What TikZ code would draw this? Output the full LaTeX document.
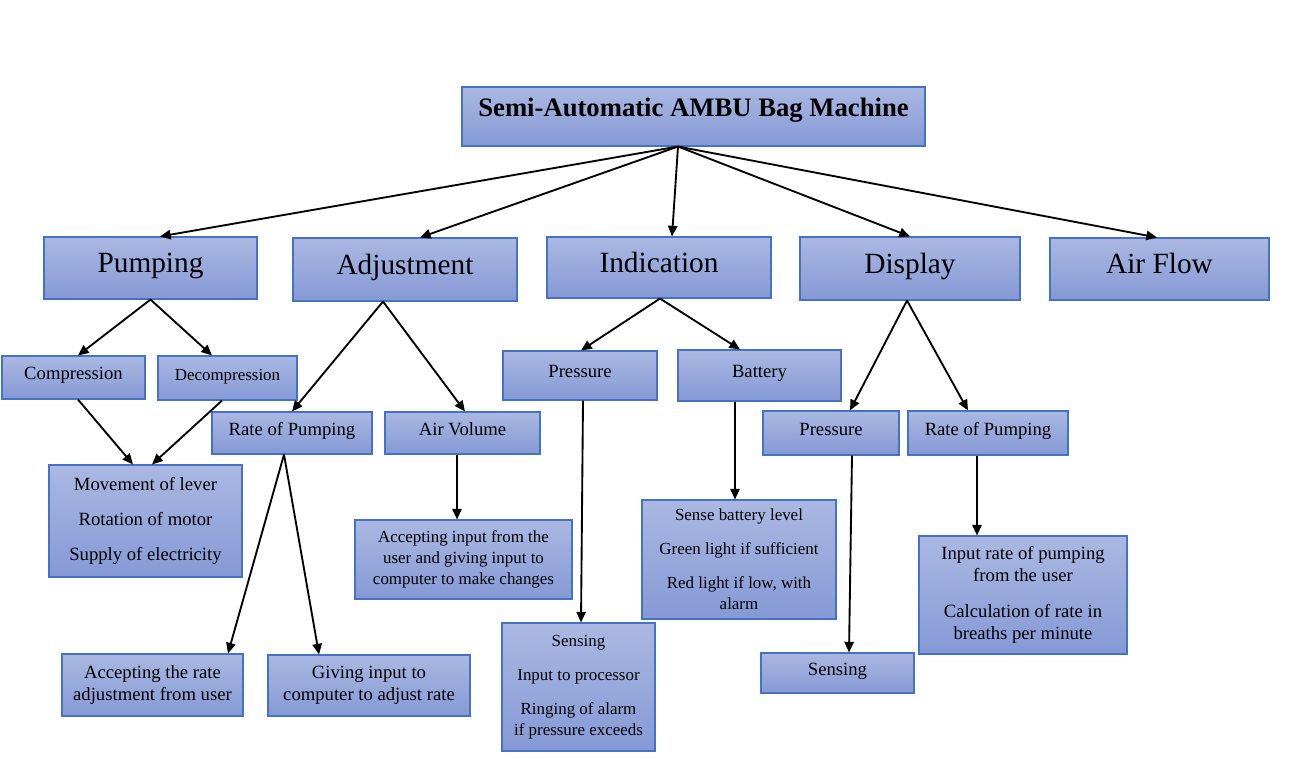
\documentclass[tikz,border=0pt]{standalone}
\usepackage{fontspec}
\setmainfont{Liberation Serif}
\usetikzlibrary{arrows.meta,calc}

\definecolor{boxTop}{HTML}{AAB8E2}
\definecolor{boxBot}{HTML}{8599D5}
\definecolor{boxLine}{HTML}{4472C4}

\begin{document}
\begin{tikzpicture}[
    x=0.75pt, y=-0.75pt,
    % box styles
    box/.style={draw=boxLine, line width=0.8pt, top color=boxTop, bottom color=boxBot, inner sep=0pt},
    title/.style={box, font=\bfseries\fontsize{20}{24}\selectfont, text height=12pt, text depth=12pt},
    big/.style={box, font=\fontsize{22}{26}\selectfont, text height=15pt, text depth=8pt},
    small/.style={box, font=\fontsize{14}{16.5}\selectfont, text height=9pt, text depth=6pt},
    multi/.style={box, font=\fontsize{14}{16.5}\selectfont, align=center},
    tiny/.style={font=\fontsize{12.7}{15.5}\selectfont},
    arr/.style={-{Triangle[length=8pt,width=7pt]}, line width=1.4pt}
]
    \useasboundingbox (0,0) rectangle (1307,774);

    % --- box macro: name, left, top, right, bottom, style, text ---
    \newcommand{\mkbox}[7]{
        \node[#6, minimum width={(#4-#2)*0.75pt}, minimum height={(#5-#3)*0.75pt}]
            (#1) at ({(#2+#4)/2},{(#3+#5)/2}) {#7};
    }

    % --- top level ---
    \mkbox{root}{462}{87}{925}{146}{title}{Semi-Automatic AMBU Bag Machine}
    \mkbox{pump}{44}{237}{257}{299}{big}{Pumping}
    \mkbox{adj}{293}{238}{517}{301}{big}{Adjustment}
    \mkbox{ind}{547}{237}{771}{298}{big}{Indication}
    \mkbox{disp}{800}{237}{1020}{300}{big}{Display}
    \mkbox{air}{1050}{238}{1269}{300}{big}{Air Flow}

    % --- pumping branch ---
    \mkbox{comp}{2}{356}{145}{399}{small}{Compression}
    \mkbox{decomp}{158}{356}{297}{400}{small, tiny}{Decompression}
    \mkbox{move}{49}{465}{242}{577}{multi}{Movement of lever\\[10pt]Rotation of motor\\[10pt]Supply of electricity}

    % --- adjustment branch ---
    \mkbox{rateA}{212}{412}{372}{454}{small}{Rate of Pumping}
    \mkbox{airvol}{385}{412}{540}{454}{small}{Air Volume}
    \mkbox{accin}{355}{520}{572}{599}{multi, tiny}{Accepting input from the\\user and giving input to\\computer to make changes}
    \mkbox{accrate}{62}{654}{243}{716}{multi}{Accepting the rate\\adjustment from user}
    \mkbox{give}{268}{655}{470}{716}{multi}{Giving input to\\computer to adjust rate}

    % --- indication branch ---
    \mkbox{presI}{503}{351}{657}{400}{small}{Pressure}
    \mkbox{batt}{678}{350}{841}{401}{small}{Battery}
    \mkbox{sensI}{502}{623}{655}{751}{multi, tiny}{Sensing\\[10pt]Input to processor\\[10pt]Ringing of alarm\\if pressure exceeds}
    \mkbox{sbatt}{642}{500}{836}{619}{multi, tiny}{Sense battery level\\[10pt]Green light if sufficient\\[10pt]Red light if low, with\\alarm}

    % --- display branch ---
    \mkbox{presD}{763}{411}{899}{455}{small}{Pressure}
    \mkbox{rateD}{908}{411}{1068}{455}{small}{Rate of Pumping}
    \mkbox{sensD}{761}{653}{914}{693}{small}{Sensing}
    \mkbox{inrate}{919}{536}{1127}{654}{multi}{Input rate of pumping\\from the user\\[10pt]Calculation of rate in\\breaths per minute}

    % --- connectors ---
    \coordinate (rootout) at ($(root.south)+(-15.5,0)$);
    \draw[arr] (rootout) -- ($(pump.north)+(9.5,0)$);
    \draw[arr] (rootout) -- ($(adj.north)+(15,0)$);
    \draw[arr] (rootout) -- ($(ind.north)+(13,0)$);
    \draw[arr] (rootout) -- (disp.north);
    \draw[arr] (rootout) -- ($(air.north)+(-2.5,0)$);

    \draw[arr] (pump.south) -- ($(comp.north)+(4.5,0)$);
    \draw[arr] (pump.south) -- ($(decomp.north)+(-15.5,0)$);
    \draw[arr] ($(comp.south)+(4.5,0)$) -- ($(move.north)+(-12.5,0)$);
    \draw[arr] ($(decomp.south)+(-5.5,0)$) -- ($(move.north)+(6.5,0)$);

    \draw[arr] ($(adj.south)+(-22,0)$) -- (rateA.north);
    \draw[arr] ($(adj.south)+(-22,0)$) -- ($(airvol.north)+(2.5,0)$);
    \draw[arr] ($(rateA.south)+(-8,0)$) -- ($(accrate.north)+(75.5,0)$);
    \draw[arr] ($(rateA.south)+(-8,0)$) -- ($(give.north)+(-50,0)$);
    \draw[arr] ($(airvol.south)+(-5.5,0)$) -- ($(accin.north)+(-6.5,0)$);

    \draw[arr] ($(ind.south)+(1,0)$) -- ($(presI.north)+(1,0)$);
    \draw[arr] ($(ind.south)+(1,0)$) -- ($(batt.north)+(-19.5,0)$);
    \draw[arr] ($(presI.south)+(3,0)$) -- ($(sensI.north)+(2.5,0)$);
    \draw[arr] ($(batt.south)+(-24.5,0)$) -- ($(sbatt.north)+(-4,0)$);

    \draw[arr] ($(disp.south)+(-3,0)$) -- ($(presD.north)+(19,0)$);
    \draw[arr] ($(disp.south)+(-3,0)$) -- ($(rateD.north)+(-20,0)$);
    \draw[arr] ($(presD.south)+(21,0)$) -- ($(sensD.north)+(11.5,0)$);
    \draw[arr] ($(rateD.south)+(-11,0)$) -- ($(inrate.north)+(-46,0)$);

\end{tikzpicture}
\end{document}
